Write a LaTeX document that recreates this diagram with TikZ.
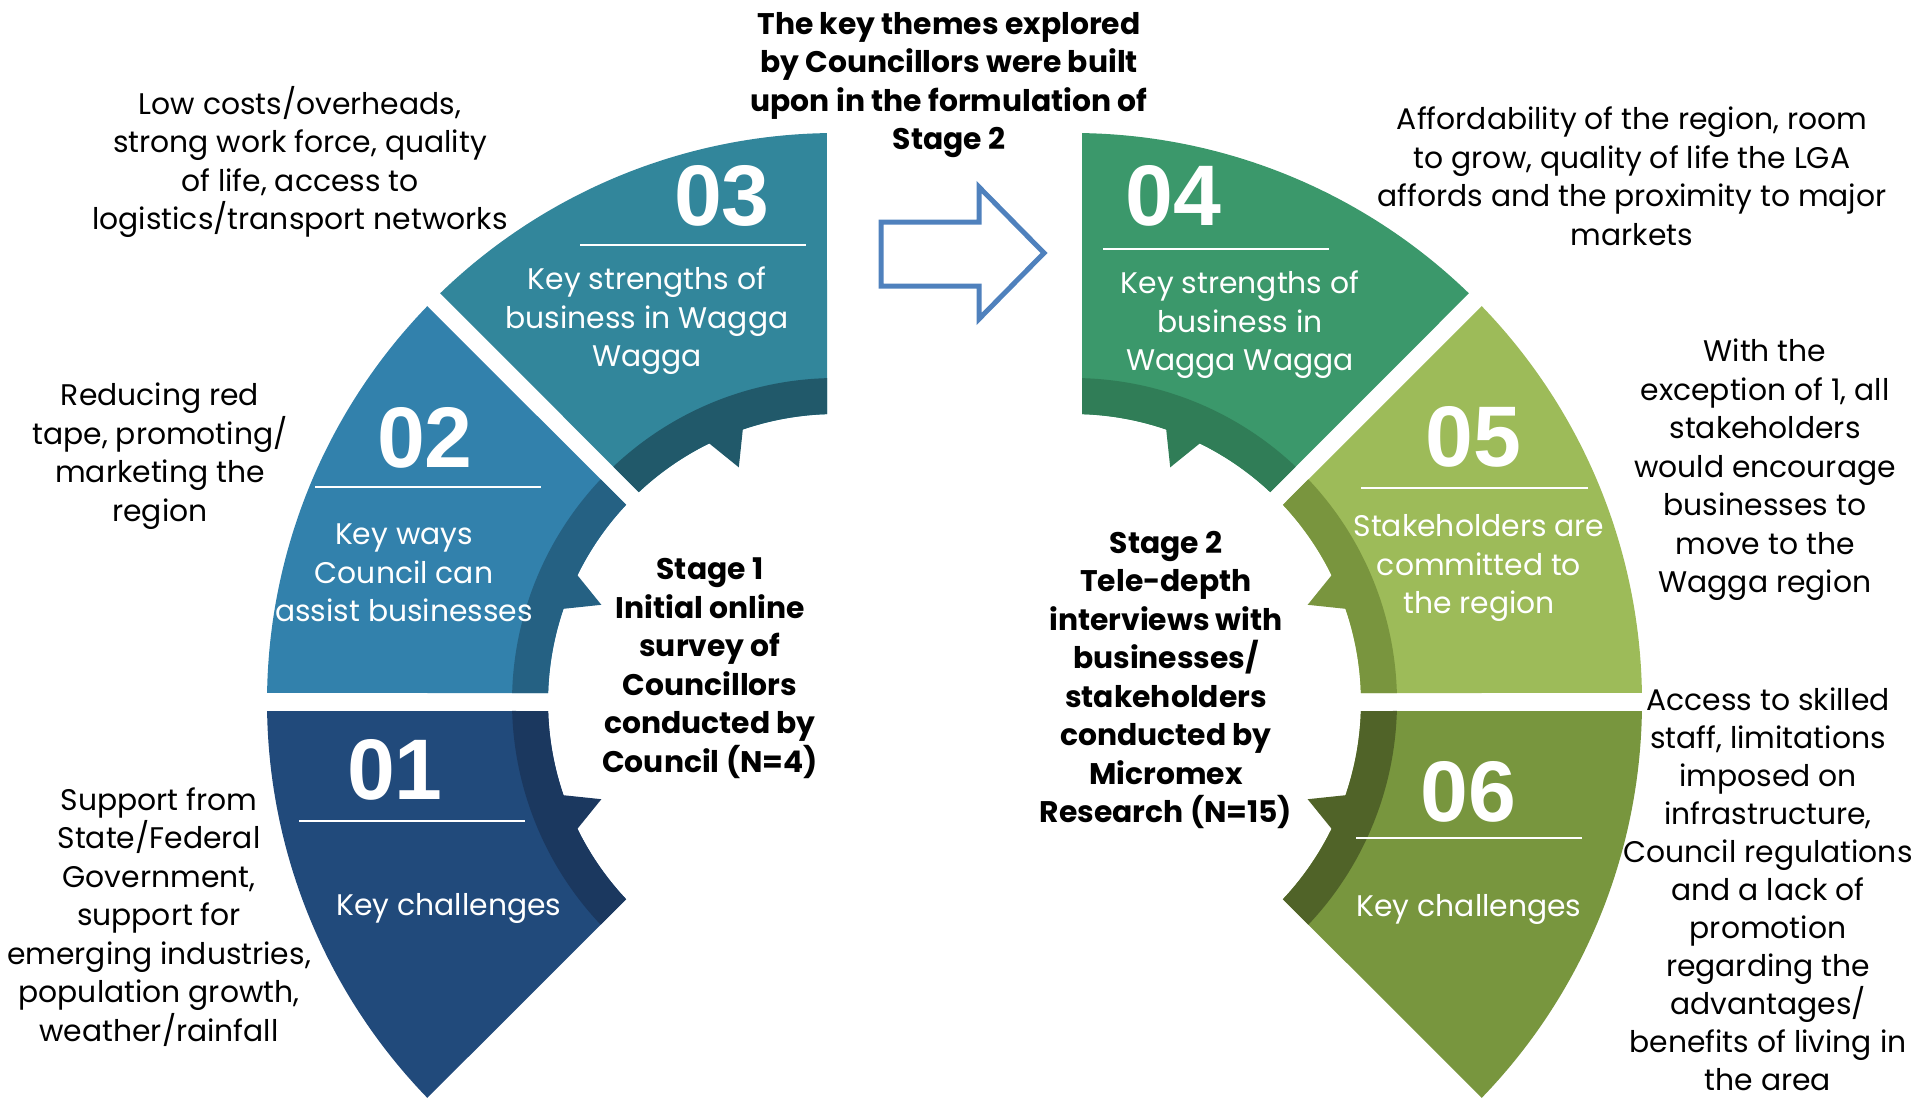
\documentclass[tikz,border=0pt]{standalone}
\usepackage{fontspec}
\setmainfont{Poppins}
\newfontfamily\numfont{Liberation Sans}

\definecolor{navy}{HTML}{214A7B}
\definecolor{navyband}{HTML}{1B385F}
\definecolor{midblue}{HTML}{3281AC}
\definecolor{midblueband}{HTML}{256183}
\definecolor{teal}{HTML}{32869B}
\definecolor{tealband}{HTML}{21596A}
\definecolor{leaf}{HTML}{3B986B}
\definecolor{leafband}{HTML}{307D57}
\definecolor{lime}{HTML}{9DBB59}
\definecolor{limeband}{HTML}{79953E}
\definecolor{olive}{HTML}{78963E}
\definecolor{oliveband}{HTML}{506328}
\definecolor{arrowblue}{HTML}{4F81BD}

% one 45 degree piece of the ring: body, inner band and pointer
% #1 centre x, #2 start angle, #3 body colour, #4 band colour
\newcommand{\ringpiece}[4]{%
  \begin{scope}[shift={(#1,702)}]
    \fill[#3] (#2+1.79:288) -- (#2+0.91:569)
      arc[start angle=#2+0.91, end angle=#2+44.09, radius=569]
      -- (#2+43.21:288)
      arc[start angle=#2+43.21, end angle=#2+1.79, radius=288] -- cycle;
    \fill[#4] (#2+1.79:288) -- (#2+1.59:324)
      arc[start angle=#2+1.59, end angle=#2+43.41, radius=324]
      -- (#2+43.21:288)
      arc[start angle=#2+43.21, end angle=#2+1.79, radius=288] -- cycle;
    \fill[#4] (#2+18.7:290) -- (#2+22.5:254) -- (#2+26.3:290) -- cycle;
  \end{scope}}

\begin{document}
\begin{tikzpicture}[x=0.5pt,y=-0.5pt,
    note/.style={align=center,inner sep=0pt,font=\fontsize{14.9}{19.25}\selectfont},
    seglabel/.style={note,text=white},
    stagelabel/.style={note,font=\bfseries\fontsize{14.9}{19.25}\selectfont},
    numlabel/.style={inner sep=0pt,text=white,font=\numfont\bfseries\fontsize{43}{43}\selectfont},
    rule/.style={white,line width=1pt}]
  \useasboundingbox (0,0) rectangle (1920,1103);

  % stage 1 half
  \ringpiece{836}{135}{navy}{navyband}
  \ringpiece{836}{180}{midblue}{midblueband}
  \ringpiece{836}{225}{teal}{tealband}
  % stage 2 half
  \ringpiece{1073}{270}{leaf}{leafband}
  \ringpiece{1073}{315}{lime}{limeband}
  \ringpiece{1073}{0}{olive}{oliveband}

  % block arrow between the halves
  \draw[arrowblue,line width=2.5pt,fill=white]
    (881,222) -- (979,222) -- (979,187) -- (1044,253)
    -- (979,319) -- (979,286) -- (881,286) -- cycle;

  % numbers and rules
  \node[numlabel] (n01) at (395,770) {01};
  \node[numlabel] (n02) at (425,438) {02};
  \node[numlabel] (n03) at (722,196) {03};
  \node[numlabel] (n04) at (1173,196) {04};
  \node[numlabel] (n05) at (1473,437) {05};
  \node[numlabel] (n06) at (1468,792) {06};
  \draw[rule] (299,821) -- (525,821);
  \draw[rule] (315,487) -- (541,487);
  \draw[rule] (580,245) -- (806,245);
  \draw[rule] (1103,249) -- (1329,249);
  \draw[rule] (1361,488) -- (1588,488);
  \draw[rule] (1356,838) -- (1582,838);

  % labels inside the pieces
  \node[seglabel] (s01) at (449,908) {Key challenges};
  \node[seglabel] (s02) at (404,573) {Key ways\\Council can\\assist businesses};
  \node[seglabel] (s03) at (647,321) {Key strengths of\\business in Wagga\\Wagga};
  \node[seglabel] (s04) at (1240,325) {Key strengths of\\business in\\Wagga Wagga};
  \node[seglabel] (s05) at (1479,568) {Stakeholders are\\committed to\\the region};
  \node[seglabel] (s06) at (1469,909) {Key challenges};

  % stage descriptions
  \node[stagelabel] (stage1) at (710,668) {Stage 1\\Initial online\\survey of\\Councillors\\conducted by\\Council (N=4)};
  \node[stagelabel] (stage2) at (1166,680) {Stage 2\\Tele-depth\\interviews with\\businesses/\\stakeholders\\conducted by\\Micromex\\Research (N=15)};
  \node[stagelabel] (themes) at (949,85) {The key themes explored\\by Councillors were built\\upon in the formulation of\\Stage 2};

  % findings beside each piece
  \node[note] (f03) at (300,162) {Low costs/overheads,\\strong work force, quality\\of life, access to\\logistics/transport networks};
  \node[note] (f02) at (160,456) {Reducing red\\tape, promoting/\\marketing the\\region};
  \node[note] (f01) at (159,917) {Support from\\State/Federal\\Government,\\support for\\emerging industries,\\population growth,\\weather/rainfall};
  \node[note] (f04) at (1632,176) {Affordability of the region, room\\to grow, quality of life the LGA\\affords and the proximity to major\\markets};
  \node[note] (f05) at (1765,470) {With the\\exception of 1, all\\stakeholders\\would encourage\\businesses to\\move to the\\Wagga region};
  \node[note,font=\fontsize{14.9}{19}\selectfont] (f06) at (1768,889) {Access to skilled\\staff, limitations\\imposed on\\infrastructure,\\Council regulations\\and a lack of\\promotion\\regarding the\\advantages/\\benefits of living in\\the area};
\end{tikzpicture}
\end{document}
